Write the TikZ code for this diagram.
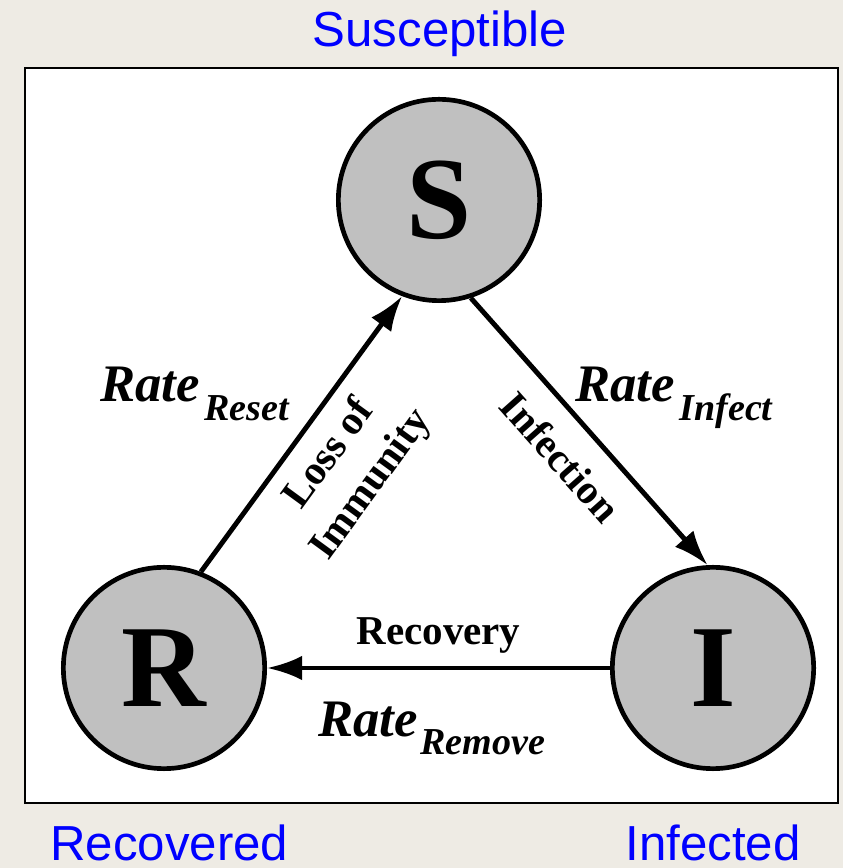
\documentclass[tikz,border=0pt]{standalone}
\usepackage{fontspec}
\setmainfont{Liberation Serif}
\newfontfamily\tagfont{Liberation Sans}
\usepackage{xcolor}
\usepackage{tikz}
\usetikzlibrary{arrows.meta}

\definecolor{pagebg}{RGB}{238,235,228}
\definecolor{stategray}{RGB}{192,192,192}
\definecolor{tagblue}{RGB}{0,0,255}

\begin{document}
\begin{tikzpicture}[
    state/.style={circle, draw, line width=4pt, fill=stategray, minimum size=6.04cm, inner sep=0pt, font=\fontsize{100}{100}\selectfont\bfseries},
    flow/.style={line width=4.2pt, -{Latex[length=30pt,width=21pt]}},
    edgelbl/.style={font=\fontsize{35}{44}\selectfont\bfseries, inner sep=0pt, align=center},
    ratelbl/.style={font=\fontsize{45}{45}\selectfont\bfseries\itshape, inner sep=0pt, anchor=base west},
    tag/.style={font=\fontsize{42}{42}\selectfont\tagfont, text=tagblue, inner sep=0pt, anchor=base},
]

% ---- Fond et cadre ----
\fill[pagebg] (0,0) rectangle (25.29,26.04);
\useasboundingbox (0,0) rectangle (25.29,26.04);
\draw[line width=1.6pt, fill=white] (0.75,1.95) rectangle (25.14,24.0);

% ---- Compartiments S, R, I ----
\foreach \n/\x/\y in {S/13.17/20.04, R/4.92/6.0, I/21.39/6.0} {
    \node[state] (\n) at (\x,\y) {\n};
}

% ---- Noms des compartiments ----
\node[tag] (tagS) at (13.2,24.63) {Susceptible};
\node[tag] (tagR) at (5.08,0.24) {Recovered};
\node[tag] (tagI) at (21.39,0.24) {Infected};

% ---- Transitions ----
\draw[flow] (S.288) -- (I.93)
    node[edgelbl, midway, sloped, below=18pt] (infection) {Infection};
\draw[flow] (I.west) -- (R.east)
    node[edgelbl, midway, above=10pt] (recovery) {Recovery};
\draw[flow] (R.69) -- (S.249)
    node[edgelbl, midway, sloped, below=12pt] (immunity) {Loss of\\Immunity};

% ---- Taux ----
\node[ratelbl] (rateReset) at (3.0,13.98) {Rate\hspace{4pt}\raisebox{-16pt}{\fontsize{32.5}{32}\selectfont Reset}};
\node[ratelbl] (rateInfect) at (17.25,13.98) {Rate\hspace{4pt}\raisebox{-16pt}{\fontsize{32.5}{32}\selectfont Infect}};
\node[ratelbl] (rateRemove) at (9.54,3.93) {Rate\hspace{2pt}\raisebox{-15pt}{\fontsize{32.5}{32}\selectfont Remove}};

\end{tikzpicture}
\end{document}
